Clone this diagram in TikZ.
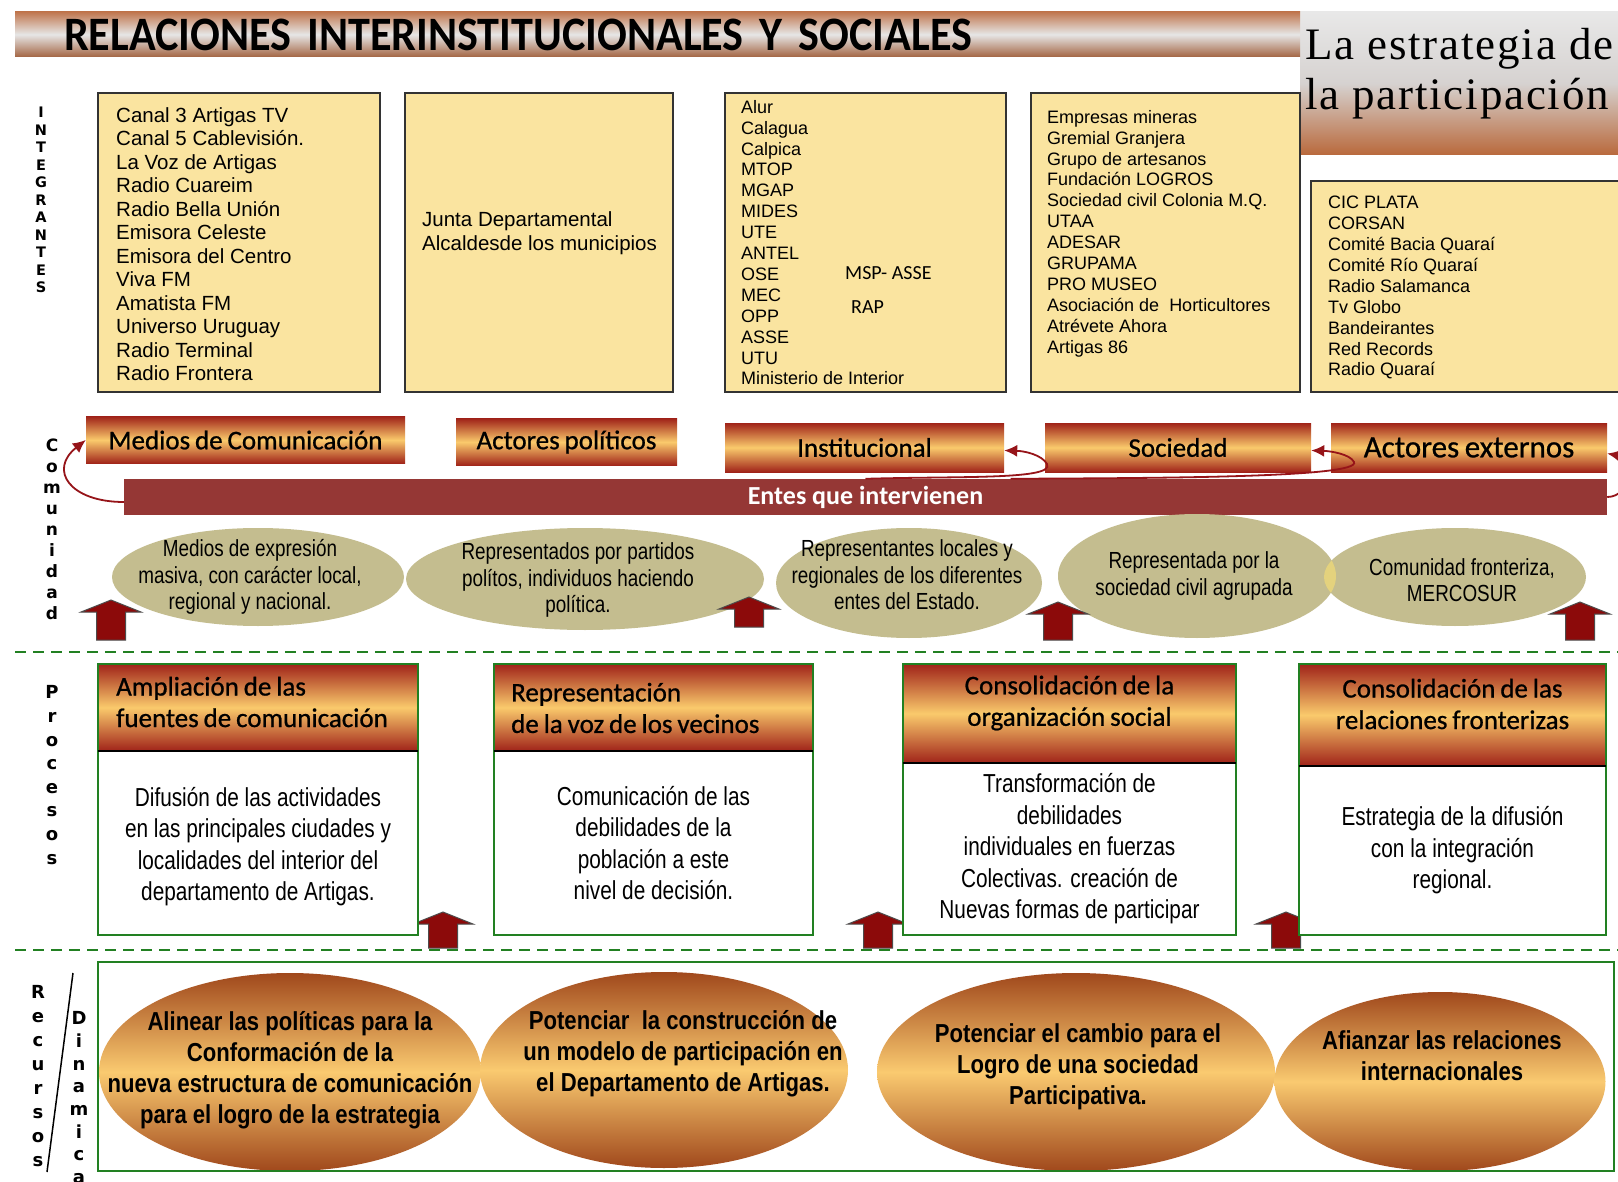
\documentclass[tikz,border=0pt]{standalone}
\usepackage{fontspec}
\setmainfont{Liberation Sans}
\newfontfamily\calibfont[WordSpace=0.8, FakeBold=0.8]{Carlito}
\newfontfamily\calibplain{Carlito}
\newfontfamily\titlefont[WordSpace=0.5, FakeStretch=0.92]{Carlito}
\newfontfamily\narrowfont[FakeStretch=0.8]{Liberation Sans}
\newfontfamily\dynfont[FakeStretch=0.85]{Liberation Sans}
\newfontfamily\ovalfont[FakeStretch=0.81]{Liberation Sans}
\newfontfamily\heavyfont{DejaVu Sans}
\newfontfamily\decofont[LetterSpace=4]{Liberation Serif}
\usetikzlibrary{arrows.meta, positioning, shapes.geometric}

\definecolor{listyellow}{RGB}{250,228,160}
\definecolor{entesred}{RGB}{149,55,53}
\definecolor{khaki}{RGB}{196,189,143}
\definecolor{lensyellow}{RGB}{228,210,125}
\definecolor{liftred}{RGB}{140,10,10}
\definecolor{curvered}{RGB}{150,20,25}
\definecolor{gradred}{RGB}{160,35,25}
\definecolor{gradlight}{RGB}{250,202,108}
\definecolor{ovalbrown}{RGB}{160,72,28}
\definecolor{ovallight}{RGB}{250,202,112}
\definecolor{frgreen}{RGB}{34,128,34}
\definecolor{titlebrown}{RGB}{192,118,78}
\definecolor{titlegrey}{RGB}{230,230,230}
\definecolor{stratgrey}{RGB}{214,210,208}
\definecolor{stratbrown}{RGB}{185,105,60}

\begin{document}
\begin{tikzpicture}[x=1pt, y=-1pt,
    titlebar/.style={
        minimum width=1285, minimum height=45, inner xsep=49, inner ysep=0,
        text width=1187, align=left,
        top color=titlebrown, bottom color=titlebrown!85!black, middle color=titlegrey,
        font=\titlefont\bfseries\fontsize{48}{50}\selectfont
    },
    stratbox/.style={
        minimum width=318, minimum height=143,
        top color=gray!18, bottom color=stratbrown, middle color=stratgrey
    },
    decotext/.style={anchor=west, inner sep=0, align=left, font=\decofont\fontsize{45}{50}\selectfont},
    listbox/.style={draw=black!80, line width=1.6pt, fill=listyellow},
    listtext/.style={anchor=north west, inner sep=0, align=left, font=\fontsize{18}{20.9}\selectfont},
    vlabel/.style={inner sep=0, align=center, font=\heavyfont\bfseries\fontsize{18}{23.6}\selectfont},
    catbox/.style={
        minimum height=47, inner sep=0,
        top color=gradred, bottom color=gradred, middle color=gradlight,
        font=\calibfont\fontsize{27}{30}\selectfont
    },
    entesbar/.style={
        fill=entesred, minimum width=1483, minimum height=36, inner sep=0,
        text=white, font=\calibplain\bfseries\fontsize{26}{30}\selectfont
    },
    commoval/.style={ellipse, fill=khaki, inner sep=0},
    commtext/.style={inner sep=0, align=center, font=\ovalfont\fontsize{23.3}{26.5}\selectfont},
    curvearr/.style={draw=curvered, line width=1.8pt, -{Latex[length=13pt, width=12pt]}},
    liftarrow/.style={fill=liftred, draw=black!70, line width=1pt},
    sepline/.style={draw=frgreen, line width=2pt, dash pattern=on 11pt off 7pt},
    prochead/.style={inner sep=0, top color=gradred, bottom color=gradred, middle color=gradlight},
    headtext/.style={inner sep=0, font=\calibfont\fontsize{27}{31.5}\selectfont},
    procbody/.style={fill=white, inner sep=0, align=center, font=\narrowfont\fontsize{26}{31.5}\selectfont},
    procframe/.style={draw=frgreen, line width=2pt},
    headrule/.style={draw=black, line width=2.5pt},
    dynoval/.style={ellipse, inner sep=0, top color=ovalbrown, bottom color=ovalbrown, middle color=ovallight},
    dyntext/.style={inner sep=0, align=center, font=\dynfont\bfseries\fontsize{26}{31}\selectfont},
    dynframe/.style={draw=frgreen, line width=2pt, minimum width=1516, minimum height=209, inner sep=0}
]
\useasboundingbox (0,0) rectangle (1618,1182);
\fill[white] (0,0) rectangle (1618,1182);

%% ---- Heading ----
\node[stratbox] at (1459, 83.5) (strategy) {};
\node[decotext] at (1305, 73.6) (strategytext) {La estrategia de\\la participación};
\node[titlebar] at (657.5, 34.5) (title) {RELACIONES INTERINSTITUCIONALES Y SOCIALES};

%% ---- Integrantes ----
\node[vlabel, font=\heavyfont\bfseries\fontsize{14.5}{17.5}\selectfont] at (41, 200) (integrantes)
    {I\\N\\T\\E\\G\\R\\A\\N\\T\\E\\S};

\node[listbox, minimum width=282, minimum height=299] at ( 239, 242.5) (canal)    {};
\node[listbox, minimum width=268, minimum height=299] at ( 539, 242.5) (junta)    {};
\node[listbox, minimum width=281, minimum height=299] at ( 865.5, 242.5) (alur)   {};
\node[listbox, minimum width=269, minimum height=299] at (1165.5, 242.5) (empresas) {};
\node[listbox, minimum width=319, minimum height=211] at (1470.5, 286.5) (cic)    {};

\node[listtext, font=\fontsize{20.5}{23.5}\selectfont] at (116, 107) (canallist) {
    Canal 3 Artigas TV\\Canal 5 Cablevisión.\\La Voz de Artigas\\Radio Cuareim\\
    Radio Bella Unión\\Emisora Celeste\\Emisora del Centro\\Viva FM\\Amatista FM\\
    Universo Uruguay\\Radio Terminal\\Radio Frontera};
\node[listtext, font=\fontsize{20.5}{24}\selectfont] at (422, 211) (juntalist) {
    Junta Departamental\\Alcaldesde los municipios};
\node[listtext] at (741, 100) (alurlist) {
    Alur\\Calagua\\Calpica\\MTOP\\MGAP\\MIDES\\UTE\\ANTEL\\OSE\\MEC\\OPP\\ASSE\\UTU\\
    Ministerio de Interior};
\node[font=\calibplain\fontsize{20}{24}\selectfont, anchor=west, inner sep=0] at (845, 273) (msp) {MSP- ASSE};
\node[font=\calibplain\fontsize{20}{24}\selectfont, anchor=west, inner sep=0] at (851, 307) (rap) {RAP};
\node[listtext] at (1047, 110) (empresaslist) {
    Empresas mineras\\Gremial Granjera\\Grupo de artesanos\\Fundación LOGROS\\
    Sociedad civil Colonia M.Q.\\UTAA\\ADESAR\\GRUPAMA\\PRO MUSEO\\
    Asociación de\ \ Horticultores\\Atrévete Ahora\\Artigas 86};
\node[listtext] at (1328, 196) (ciclist) {
    CIC PLATA\\CORSAN\\Comité Bacia Quaraí\\Comité Río Quaraí\\Radio Salamanca\\
    Tv Globo\\Bandeirantes\\Red Records\\Radio Quaraí};

%% ---- Comunidad ----
\node[vlabel, font=\heavyfont\bfseries\fontsize{17}{21}\selectfont] at (52, 529) (comunidad)
    {C\\o\\m\\u\\n\\i\\d\\a\\d};

\node[catbox, minimum width=319] at ( 245.5, 440) (medios) {Medios de Comunicación};
\node[catbox, minimum width=221] at ( 566.5, 442) (actores) {Actores políticos};
\node[catbox, minimum width=279, minimum height=49] at ( 864.5, 447.5) (inst) {Institucional};
\node[catbox, minimum width=266, minimum height=49] at (1178, 447.5) (soc) {Sociedad};
\node[catbox, minimum width=276, minimum height=49, font=\calibfont\fontsize{31}{34}\selectfont]
    at (1469, 447.5) (ext) {Actores externos};

\node[entesbar] at (865.5, 497) (entes) {Entes que intervienen};

% curved arrows from the bar back to the groups
\draw[curvearr] ([yshift=-5pt]entes.west) .. controls (70, 502) and (48, 470) .. (medios.west);
\draw[curvearr] (entes.north) .. controls (960, 476) and (1055, 480) .. (1047, 464)
    .. controls (1042, 455) and (1025, 451) .. ([yshift=-3pt]inst.east);
\draw[curvearr] ([xshift=145pt]entes.north) .. controls (1150, 478) and (1362, 478) .. (1354, 462)
    .. controls (1350, 454) and (1330, 451) .. ([yshift=-3pt]soc.east);
\draw[curvearr] (entes.east) .. controls (1632, 497) and (1632, 458) .. ([yshift=-6pt]ext.east);

% ellipses of the groups
\node[commoval, minimum width=292, minimum height=98]  at ( 258, 577) (expr) {};
\node[commoval, minimum width=358, minimum height=102] at ( 585, 579) (repr) {};
\node[commoval, minimum width=266, minimum height=110] at ( 909, 583) (locales) {};
\node[commoval, minimum width=278, minimum height=124] at (1197, 576) (civil) {};
\node[commoval, minimum width=262, minimum height=98]  at (1455, 577) (front) {};
\begin{scope}
    \clip (civil.center) ellipse [x radius=139pt, y radius=62pt];
    \fill[lensyellow] (front.center) ellipse [x radius=131pt, y radius=49pt];
\end{scope}

\node[commtext] at ( 250, 577) (exprtext) {Medios de expresión\\masiva, con carácter local,\\regional y nacional.};
\node[commtext] at ( 578, 580) (reprtext) {Representados por partidos\\polítos, individuos haciendo\\política.};
\node[commtext] at ( 907, 575) (localestext) {Representantes locales y\\regionales de los diferentes\\entes del Estado.};
\node[commtext] at (1194, 576) (civiltext) {Representada por la\\sociedad civil agrupada};
\node[commtext] at (1462, 580) (fronttext) {Comunidad fronteriza,\\MERCOSUR};

% block arrows: x / tip / bottom
\foreach \ax/\atip/\abot in {111/600/640, 749/597/627, 1058/602/640, 1580/602/640,
                             443/912/948, 878/912/948, 1286/912/948}
    \filldraw[liftarrow] (\ax-14.5,\abot) -- (\ax-14.5,\atip+12) -- (\ax-30,\atip+12) -- (\ax,\atip)
        -- (\ax+30,\atip+12) -- (\ax+14.5,\atip+12) -- (\ax+14.5,\abot) -- cycle;

\draw[sepline] (15, 652) -- (1618, 652);

%% ---- Procesos ----
\node[vlabel] at (52, 775) (procesos) {P\\r\\o\\c\\e\\s\\o\\s};

\node[prochead, minimum width=320, minimum height=87] at (258, 707.5) (ampl) {};
\node[procbody, minimum width=320, minimum height=183, below=0pt of ampl] (ampl-body)
    {\\[-5pt]Difusión de las actividades\\en las principales ciudades y\\localidades del interior del\\departamento\ de Artigas.};
\node[headtext, align=left, anchor=west] at (116, 702) (ampltitle) {Ampliación de las\\fuentes de comunicación};

\node[prochead, minimum width=319, minimum height=87] at (653.5, 707.5) (repvoz) {};
\node[procbody, minimum width=319, minimum height=183, below=0pt of repvoz] (repvoz-body)
    {Comunicación de las\\debilidades de la\\población a este\\nivel de decisión.};
\node[headtext, align=left, anchor=west] at (511, 708) (repvoztitle) {Representación\\de la voz de los vecinos};

\node[prochead, minimum width=333, minimum height=99] at (1069.5, 713.5) (consorg) {};
\node[procbody, minimum width=333, minimum height=171, below=0pt of consorg] (consorg-body)
    {Transformación de\\debilidades\\individuales en fuerzas\\Colectivas. creación de\\Nuevas formas de participar};
\node[headtext, align=center] at (1069.5, 703) (consorgtitle) {Consolidación\ de la\\organización social};

\node[prochead, minimum width=307, minimum height=102] at (1452.5, 715) (consfront) {};
\node[procbody, minimum width=307, minimum height=168, below=0pt of consfront] (consfront-body)
    {Estrategia de la difusión\\con la integración\\regional.};
\node[headtext, align=center] at (1452.5, 704) (consfronttitle) {Consolidación\ de las\\relaciones fronterizas};

\foreach \proc in {ampl, repvoz, consorg, consfront} {
    \draw[procframe] (\proc.north west) rectangle (\proc-body.south east);
    \draw[headrule] (\proc.south west) -- (\proc.south east);
}

\draw[sepline] (15, 950) -- (1618, 950);

%% ---- Recursos / Dinamicas ----
\node[vlabel, font=\heavyfont\bfseries\fontsize{18}{23.9}\selectfont] at (38, 1076) (recursos) {R\\e\\c\\u\\r\\s\\o\\s};
\node[vlabel, font=\heavyfont\bfseries\fontsize{18}{22.7}\selectfont] at (79, 1109) (dinamicas) {D\\i\\n\\a\\m\\i\\c\\a\\s};
\draw[line width=1.5pt] (73, 973) -- (47, 1172);

\node[dynoval, minimum width=382, minimum height=198] at ( 290, 1072) (alinear) {};
\node[dynoval, minimum width=368, minimum height=196] at ( 664, 1070) (potenciar) {};
\node[dynoval, minimum width=398, minimum height=198] at (1076, 1072) (cambio) {};
\node[dynoval, minimum width=331, minimum height=179] at (1440, 1081.5) (afianzar) {};

\node[dyntext] at ( 290, 1070) (alineartext) {Alinear las políticas para la\\Conformación de la\\nueva estructura de comunicación\\para el logro de la estrategia};
\node[dyntext] at ( 683, 1054) (potenciartext) {Potenciar\ \ la construcción de\\un modelo de participación en\\el Departamento de Artigas.};
\node[dyntext] at (1078, 1067) (cambiotext) {Potenciar el cambio para el\\Logro de una sociedad\\Participativa.};
\node[dyntext] at (1442, 1056) (afianzartext) {Afianzar las relaciones\\internacionales};

\node[dynframe] at (856, 1066.5) (dynamics) {};

\end{tikzpicture}
\end{document}
